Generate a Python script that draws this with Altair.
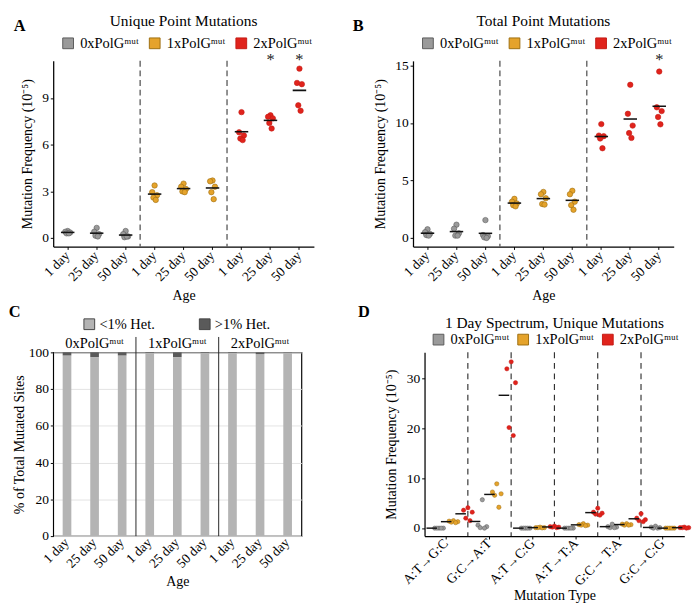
import altair as alt
import pandas as pd

FONT = "Liberation Serif"

# ---------------- data ----------------
AGES = ["1 day", "25 day", "50 day"]
GENOS = ["0xPolGᵐᵘᵗ", "1xPolGᵐᵘᵗ", "2xPolGᵐᵘᵗ"]
FILLS = ["#9a9a9a", "#e5a32b", "#e0231c"]
STROKES = ["#5a5a5a", "#9c6d10", "#c41a14"]
PANEL_LETTERS = ["A", "B", "C", "D"]
PANEL_TITLES = ["Unique Point Mutations", "Total Point Mutations", "", "1 Day Spectrum, Unique Mutations"]

# Panel A: unique point mutation frequency (10^-5), 5 animals per age
unique_0x = [[0.45, 0.40, 0.35, 0.30, 0.30], [0.65, 0.40, 0.25, 0.15, 0.10], [0.45, 0.25, 0.10, 0.05, 0.10]]
unique_1x = [[3.38, 2.95, 2.75, 2.60, 2.45], [3.50, 3.30, 3.15, 3.00, 2.95], [3.70, 3.65, 3.30, 2.95, 2.50]]
unique_2x = [[8.10, 6.80, 6.60, 6.40, 6.30], [7.90, 7.80, 7.70, 7.40, 7.05], [10.90, 9.98, 9.90, 8.54, 8.19]]
unique_stars = ["2xPolGᵐᵘᵗ|25 day", "2xPolGᵐᵘᵗ|50 day"]

# Panel B: total point mutation frequency (10^-5)
total_0x = [[0.75, 0.50, 0.35, 0.25, 0.20], [1.15, 0.80, 0.40, 0.20, 0.20], [1.55, 0.25, 0.15, 0.05, 0.00]]
total_1x = [[3.40, 3.15, 3.00, 2.85, 2.75], [4.00, 3.80, 3.45, 2.95, 2.90], [4.10, 3.80, 3.15, 2.85, 2.45]]
total_2x = [[9.90, 8.90, 8.85, 8.65, 7.80], [13.32, 10.80, 9.77, 9.12, 8.70], [14.47, 11.36, 11.03, 10.52, 9.88]]
total_stars = ["2xPolGᵐᵘᵗ|50 day"]

# Panel C: % of mutated sites with >1% heteroplasmy (rest are <1%)
HETS = ["<1% Het.", ">1% Het."]
HET_COLORS = ["#b4b4b4", "#5a5a5a"]
het_high_0x = [1.7, 2.6, 1.7]
het_high_1x = [0.3, 2.6, 0.3]
het_high_2x = [0.3, 1.0, 0.2]

# Panel D: 1-day spectrum, unique mutations (10^-5)
TYPES = ["A:T→G:C", "G:C→A:T", "A:T→C:G", "A:T→T:A", "G:C→ T:A", "G:C→C:G"]
spec_0x = [[0, 0, 0, 0, 0], [5.7, 0.6, 0.3, 0.1, 0.0], [0, 0, 0, 0, 0],
           [0, 0, 0, 0, 0], [0.8, 0.3, 0.2, 0.1, 0.1], [0.4, 0.2, 0.1, 0.0, 0.0]]
spec_1x = [[1.5, 1.4, 1.3, 1.2, 1.1], [8.9, 7.25, 6.9, 6.6, 4.2], [0.2, 0.1, 0.1, 0.1, 0.05],
           [0.9, 0.7, 0.6, 0.6, 0.5], [0.9, 0.8, 0.7, 0.6, 0.6], [0, 0, 0, 0, 0]]
spec_2x = [[4.1, 3.6, 3.2, 2.0, 1.5], [33.4, 32.0, 29.2, 20.2, 18.6], [0.4, 0.3, 0.2, 0.2, 0.1],
           [4.0, 3.2, 3.0, 2.8, 2.6], [2.9, 2.0, 1.7, 1.5, 1.3], [0.2, 0.1, 0.1, 0.1, 0.0]]

CATS = [f"{g}|{a}" for g in GENOS for a in AGES]
DCATS = [f"{t}|{g}" for t in TYPES for g in GENOS]


def scatter_df(series, groups):
    rows = []
    for g, per in zip(GENOS, series):
        for a, vals in zip(groups, per):
            for r, v in enumerate(vals):
                rows.append(dict(geno=g, grp=a, rep=r, value=v))
    return pd.DataFrame(rows)


def geno_legend(x, y, pad):
    return alt.Legend(orient="none", legendX=x, legendY=y, direction="horizontal", title=None,
                      symbolType="square", symbolSize=125, symbolStrokeColor="#333333",
                      symbolStrokeWidth=1, symbolOpacity=1, labelFont=FONT, labelFontSize=15,
                      labelColor="black", columnPadding=pad, labelOffset=5)


def text_layer(text, x, y, size=17, weight="bold"):
    return alt.Chart(alt.Data(values=[{"t": text}])).mark_text(
        font=FONT, fontSize=size, fontWeight=weight, color="black", align="center", baseline="middle"
    ).encode(text="t:N", x=alt.value(x), y=alt.value(y))


XLAB = dict(labelAngle=315, labelAlign="right", labelBaseline="middle", labelPadding=4,
            titlePadding=5, labelFontSize=14)


def age_panel(series, stars, letter, title, ydom, yticks, letter_x, W=271, H=193):
    df = scatter_df(series, AGES)
    df["cat"] = df["geno"] + "|" + df["grp"]
    xscale = alt.Scale(domain=CATS, paddingInner=0, paddingOuter=0)
    xaxis = alt.Axis(title="Age", labelExpr="split(datum.label, '|')[1]", **XLAB)
    yscale = alt.Scale(domain=ydom, nice=False, zero=False)
    yaxis = alt.Axis(values=yticks, title="Mutation Frequency (10⁻⁵)", titlePadding=8)
    bw = W / 9.0

    def X(**kw):
        return alt.X("cat:N", scale=xscale, axis=xaxis, sort=CATS, **kw)

    pts = alt.Chart(df).transform_calculate(
        jit="[0, -2.5, 2.5, -1.2, 1.2][datum.rep]"
    ).mark_circle(size=32, opacity=1, strokeWidth=0.6).encode(
        x=X(), y=alt.Y("value:Q", scale=yscale, axis=yaxis),
        xOffset=alt.XOffset("jit:Q", scale=alt.Scale(domain=[-bw / 2, bw / 2], range=[0, bw])),
        fill=alt.Fill("geno:N", scale=alt.Scale(domain=GENOS, range=FILLS), legend=geno_legend(8, -26, 8)),
        stroke=alt.Stroke("geno:N", scale=alt.Scale(domain=GENOS, range=STROKES), legend=None),
    )
    means = alt.Chart(df).mark_tick(color="#111111", thickness=1.6, size=14).encode(
        x=X(), y=alt.Y("mean(value):Q", scale=yscale, axis=yaxis)
    )
    rules = alt.Chart(pd.DataFrame({"cat": [CATS[3], CATS[6]]})).mark_rule(
        color="#444444", strokeDash=[6, 4], strokeWidth=1.2
    ).encode(x=X(bandPosition=0))
    star = alt.Chart(pd.DataFrame({"cat": stars, "s": ["*"] * len(stars)})).mark_text(
        font=FONT, fontSize=17, color="#222222", baseline="middle"
    ).encode(x=X(), y=alt.value(-1), text="s:N")
    return alt.layer(
        rules, pts, means, star,
        text_layer(letter, letter_x, -36),
        text_layer(title, W / 2, -41, size=16, weight="normal"),
    ).properties(width=W, height=H)


A = age_panel([unique_0x, unique_1x, unique_2x], unique_stars, PANEL_LETTERS[0], PANEL_TITLES[0],
              [-0.55, 11.4], [0, 3, 6, 9], -35)
B = age_panel([total_0x, total_1x, total_2x], total_stars, PANEL_LETTERS[1], PANEL_TITLES[1],
              [-0.75, 15.4], [0, 5, 10, 15], -57)

# ---------------- panel C ----------------
crows = []
for g, highs in zip(GENOS, [het_high_0x, het_high_1x, het_high_2x]):
    for a, h in zip(AGES, highs):
        crows.append(dict(cat=f"{g}|{a}", het=HETS[0], pct=100 - h, ord=0))
        crows.append(dict(cat=f"{g}|{a}", het=HETS[1], pct=h, ord=1))
cdf = pd.DataFrame(crows)
CW, CH = 258, 191
bars = alt.Chart(cdf).mark_bar(size=9).encode(
    x=alt.X("cat:N", sort=CATS, scale=alt.Scale(domain=CATS, paddingInner=0, paddingOuter=0),
            axis=alt.Axis(title="Age", labelExpr="split(datum.label, '|')[1]", ticks=False,
                          domain=False, **XLAB)),
    y=alt.Y("pct:Q", stack="zero", scale=alt.Scale(domain=[0, 100], nice=False),
            axis=alt.Axis(values=[0, 20, 40, 60, 80, 100], title="% of Total Mutated Sites",
                          grid=True, gridColor="#e2e2e2", domain=False, titlePadding=2)),
    color=alt.Color("het:N", scale=alt.Scale(domain=HETS, range=HET_COLORS),
                    legend=alt.Legend(orient="none", legendX=30, legendY=-37, direction="horizontal",
                                      title=None, symbolType="square", symbolSize=125,
                                      symbolStrokeColor="#444444", symbolStrokeWidth=1,
                                      symbolOpacity=1, labelFont=FONT, labelFontSize=15,
                                      labelColor="black", columnPadding=43, labelOffset=3)),
    order=alt.Order("ord:Q"),
)
hdr = alt.Chart(pd.DataFrame({"geno": GENOS})).transform_filter(
    alt.datum.geno != GENOS[0]
).mark_rule(color="#222222", strokeWidth=1).encode(
    x=alt.X("geno:N", sort=GENOS, scale=alt.Scale(domain=GENOS, paddingInner=0, paddingOuter=0),
            bandPosition=0,
            axis=alt.Axis(orient="top", title=None, ticks=False, domain=False, labelAngle=0,
                          labelPadding=2, labelFontSize=15)),
    y=alt.value(CH), y2=alt.value(-16),
)
C = alt.layer(bars, hdr, text_layer(PANEL_LETTERS[2], -40, -42)).resolve_scale(x="independent").properties(
    width=CW, height=CH, view=alt.ViewBackground(stroke="black", strokeWidth=1.2)
)

# ---------------- panel D ----------------
ddf = scatter_df([spec_0x, spec_1x, spec_2x], TYPES)
ddf["cat"] = ddf["grp"] + "|" + ddf["geno"]
DW, DH = 270, 191
dscale = alt.Scale(domain=DCATS, paddingInner=0, paddingOuter=0)
dy_scale = alt.Scale(domain=[-1.6, 35.3], nice=False, zero=False)
dy_axis = alt.Axis(values=[0, 10, 20, 30], title="Mutation Frequency (10⁻⁵)", titlePadding=8)
dbw = DW / 18.0
dpts = alt.Chart(ddf).transform_calculate(jit="[0, -4.5, 4.5, -2.2, 2.2][datum.rep]").mark_circle(
    size=20, opacity=1, strokeWidth=0.5
).encode(
    x=alt.X("cat:N", sort=DCATS, scale=dscale, axis=None),
    xOffset=alt.XOffset("jit:Q", scale=alt.Scale(domain=[-dbw / 2, dbw / 2], range=[0, dbw])),
    y=alt.Y("value:Q", scale=dy_scale, axis=dy_axis),
    fill=alt.Fill("geno:N", scale=alt.Scale(domain=GENOS, range=FILLS), legend=geno_legend(7, -21, 6)),
    stroke=alt.Stroke("geno:N", scale=alt.Scale(domain=GENOS, range=STROKES), legend=None),
)
dmeans = alt.Chart(ddf).mark_tick(color="#111111", thickness=1.5, size=11).encode(
    x=alt.X("cat:N", sort=DCATS, scale=dscale, axis=None),
    y=alt.Y("mean(value):Q", scale=dy_scale, axis=dy_axis),
)
DXLAB = dict(XLAB, labelPadding=2, titlePadding=1)
drules = alt.Chart(pd.DataFrame({"type": TYPES})).mark_rule(
    color="#333333", strokeDash=[6, 5], strokeWidth=1.2
).encode(
    x=alt.X("type:N", sort=TYPES, scale=alt.Scale(domain=TYPES, paddingInner=0, paddingOuter=0),
            bandPosition=0, axis=alt.Axis(title="Mutation Type", **DXLAB)),
    opacity=alt.condition(alt.datum.type == TYPES[0], alt.value(0), alt.value(1)),
)
D = alt.layer(
    drules, dpts, dmeans,
    text_layer(PANEL_LETTERS[3], -63, -42),
    text_layer(PANEL_TITLES[3], DW / 2, -30, size=16, weight="normal"),
).resolve_scale(x="independent").properties(width=DW, height=DH)

row1 = alt.hconcat(A, B, spacing=40).resolve_scale(fill="independent", stroke="independent")
row2 = alt.hconcat(C, D, spacing=57).resolve_scale(fill="independent", stroke="independent",
                                                   color="independent")
chart = alt.vconcat(row1, row2, spacing=0).resolve_scale(
    fill="independent", stroke="independent", color="independent"
).properties(
    padding={"left": 0, "top": -6, "right": 0, "bottom": 0}
).configure(font=FONT).configure_view(stroke=None).configure_axis(
    labelFont=FONT, titleFont=FONT, labelFontSize=14, titleFontSize=14.5, titleFontWeight="normal",
    labelColor="black", titleColor="black", domainColor="black", domainWidth=1.3,
    tickColor="black", tickSize=3, grid=False
)

chart.save("out.html", embed_options={"renderer": "svg", "actions": False})
